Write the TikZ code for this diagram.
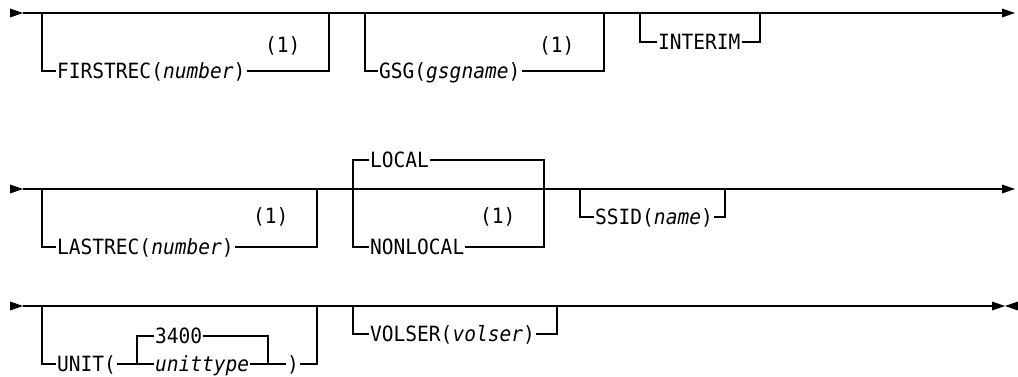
\documentclass[tikz,border=0pt]{standalone}
\usepackage{fontspec}
\newfontfamily\dmono[FakeStretch=0.93]{DejaVu Sans Mono}
\begin{document}
\begin{tikzpicture}[x=1pt,y=-1pt,
  rail/.style={line width=1.5pt,black},
  kw/.style={inner xsep=1pt,inner ysep=0pt,text height=15.3pt,text depth=0pt,anchor=west,font=\dmono\fontsize{21}{24}\selectfont},
  fn/.style={kw},
  tip/.style={fill=black}]
\useasboundingbox (0,0) rectangle (1018,377);

% ---------- Row 1 ----------
\coordinate (s1) at (23,13);
\coordinate (e1) at (1003,13);
\fill[tip] (10,8.5) -- (s1) -- (10,17.5) -- cycle;
\fill[tip] (1002,8.5) -- (1015,13) -- (1002,17.5) -- cycle;
\draw[rail] (s1) -- (e1);

\coordinate (a1) at (42,13);  \coordinate (a2) at (329,13);
\node[kw] (firstrec) at (56,71) {FIRSTREC(\textit{number})};
\node[fn] (fn1) at (264,45) {(1)};
\draw[rail] (a1) |- (firstrec.west);
\draw[rail] (firstrec.east) -| (a2);

\coordinate (b1) at (365,13);  \coordinate (b2) at (604,13);
\node[kw] (gsg) at (378,71) {GSG(\textit{gsgname})};
\node[fn] (fn2) at (538,45) {(1)};
\draw[rail] (b1) |- (gsg.west);
\draw[rail] (gsg.east) -| (b2);

\coordinate (c1) at (640,13);  \coordinate (c2) at (760,13);
\node[kw] (interim) at (657,42) {INTERIM};
\draw[rail] (c1) |- (interim.west);
\draw[rail] (interim.east) -| (c2);

% ---------- Row 2 ----------
\coordinate (s2) at (23,189);
\coordinate (e2) at (1003,189);
\fill[tip] (10,184.5) -- (s2) -- (10,193.5) -- cycle;
\fill[tip] (1002,184.5) -- (1015,189) -- (1002,193.5) -- cycle;
\draw[rail] (s2) -- (e2);

\coordinate (d1) at (42,189);  \coordinate (d2) at (317,189);
\node[kw] (lastrec) at (56,247) {LASTREC(\textit{number})};
\node[fn] (fn3) at (252,216) {(1)};
\draw[rail] (d1) |- (lastrec.west);
\draw[rail] (lastrec.east) -| (d2);

\coordinate (f1) at (353,189);  \coordinate (f2) at (544,189);
\node[kw] (local) at (369,160) {LOCAL};
\node[kw] (nonlocal) at (369,247) {NONLOCAL};
\node[fn] (fn4) at (479,216) {(1)};
\draw[rail] (f1) |- (local.west);
\draw[rail] (f1) |- (nonlocal.west);
\draw[rail] (local.east) -| (f2);
\draw[rail] (nonlocal.east) -| (f2);

\coordinate (g1) at (580,189);  \coordinate (g2) at (725,189);
\node[kw] (ssid) at (594,217) {SSID(\textit{name})};
\draw[rail] (g1) |- (ssid.west);
\draw[rail] (ssid.east) -| (g2);

% ---------- Row 3 ----------
\coordinate (s3) at (23,306);
\coordinate (e3) at (993,306);
\fill[tip] (10,301.5) -- (s3) -- (10,310.5) -- cycle;
\fill[tip] (992,301.5) -- (1005,306) -- (992,310.5) -- cycle;
\fill[tip] (1018,301.5) -- (1005,306) -- (1018,310.5) -- cycle;
\draw[rail] (s3) -- (e3);

\coordinate (h1) at (42,306);  \coordinate (h2) at (317,306);
\coordinate (i1) at (137,364); \coordinate (i2) at (268,364);
\node[kw] (unit) at (56,364) {UNIT(};
\node[kw] (v3400) at (154,336) {3400};
\node[kw] (unittype) at (154,364) {\textit{unittype}};
\node[kw] (rparen) at (286,364) {)};
\draw[rail] (h1) |- (unit.west);
\draw[rail] (unit.east) -- (unittype.west);
\draw[rail] (i1) |- (v3400.west);
\draw[rail] (v3400.east) -| (i2);
\draw[rail] (unittype.east) -- (rparen.west);
\draw[rail] (rparen.east) -| (h2);

\coordinate (k1) at (353,306);  \coordinate (k2) at (557,306);
\node[kw] (volser) at (369,334) {VOLSER(\textit{volser})};
\draw[rail] (k1) |- (volser.west);
\draw[rail] (volser.east) -| (k2);
\end{tikzpicture}
\end{document}
